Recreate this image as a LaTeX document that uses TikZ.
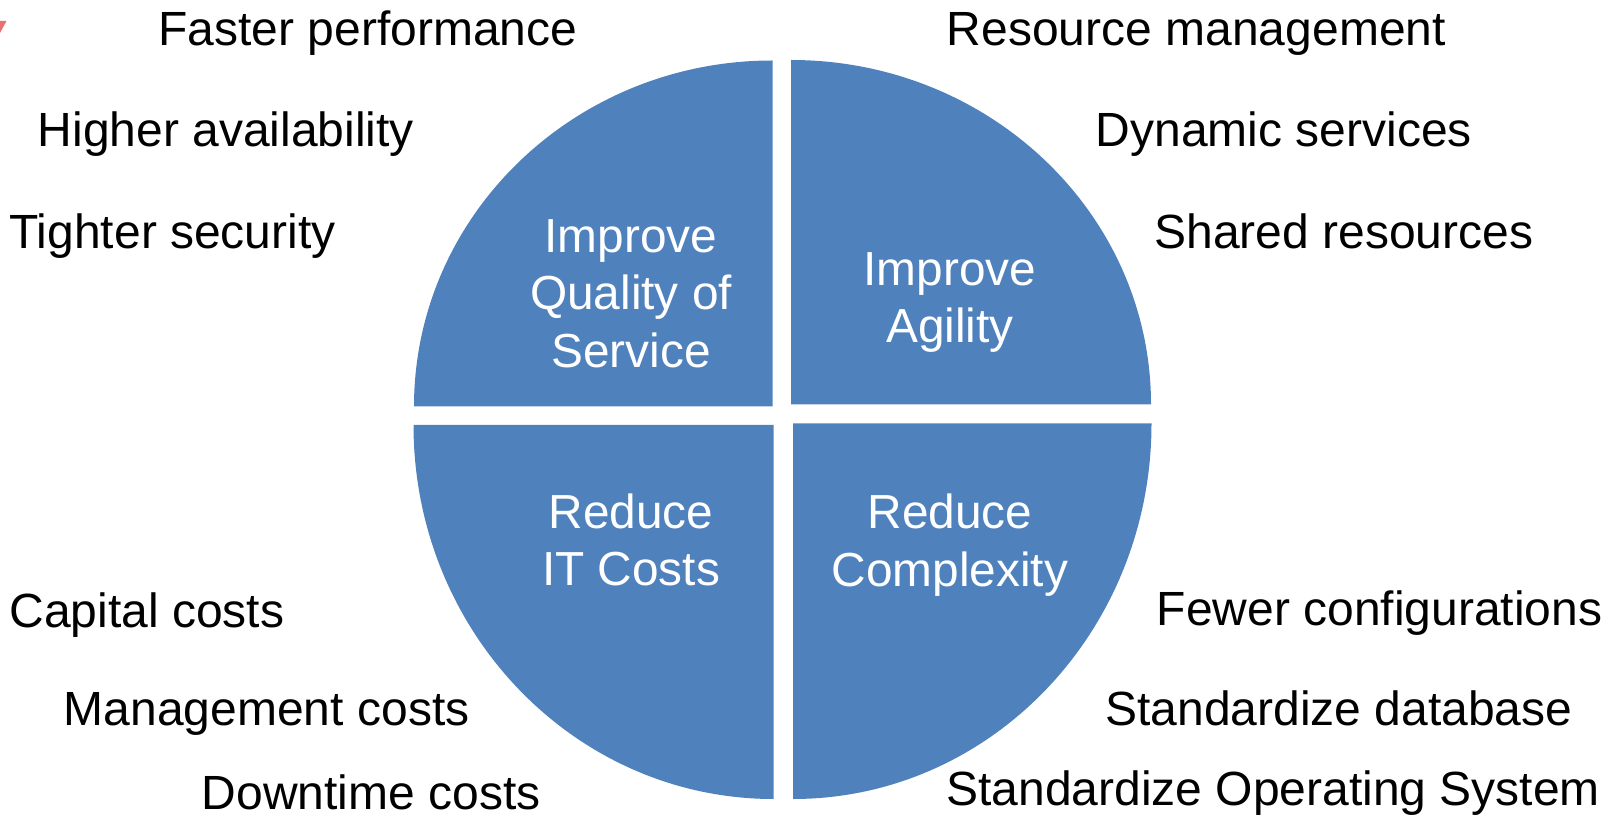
\documentclass[tikz,border=0pt]{standalone}
\usepackage{fontspec}
\setmainfont{Liberation Sans}
\definecolor{qblue}{RGB}{79,129,189}
\definecolor{markred}{RGB}{232,112,112}
\tikzset{
  quad/.style={fill=qblue, draw=none},
  lbl/.style={anchor=base west, inner sep=0pt, text=black, font=\fontsize{24}{28.7}\selectfont},
  inlbl/.style={anchor=center, inner sep=0pt, align=center, text=white, font=\fontsize{23.9}{28.7}\selectfont}
}
\begin{document}
\begin{tikzpicture}[x=0.5pt,y=0.5pt]
\useasboundingbox (0,0) rectangle (1606,815);
% small red mark at the top left edge
\fill[markred] (0,794) -- (6.5,794) -- (0,782) -- cycle;
% quadrants
\path[quad] (772.5,408.5) -- (414,408.5) arc[start angle=180, end angle=90, x radius=358.5, y radius=346] -- cycle;
\path[quad] (791,410.5) -- (1151,410.5) arc[start angle=0, end angle=90, x radius=360, y radius=344.5] -- cycle;
\path[quad] (773.5,390) -- (413.5,390) arc[start angle=180, end angle=270, x radius=360, y radius=374] -- cycle;
\path[quad] (793,391.5) -- (1151.5,391.5) arc[start angle=0, end angle=-90, x radius=358.5, y radius=375.5] -- cycle;
% inner labels
\node[inlbl] (qos) at (631,815-293.5) {Improve\\Quality of\\Service};
\node[inlbl] (agi) at (950,815-302.6) {Improve\\Agility};
\node[inlbl] (cost) at (631,815-540) {Reduce\\IT Costs};
\node[inlbl] (cplx) at (950,815-545) {Reduce\\Complexity};
% outer labels, left
\node[lbl] (fast) at (158,815-46) {Faster performance};
\node[lbl] (avail) at (37.5,815-146.5) {Higher availability};
\node[lbl] (sec) at (9,815-249) {Tighter security};
\node[lbl] (cap) at (9,815-627) {Capital costs};
\node[lbl] (mgmt) at (63.5,815-725) {Management costs};
\node[lbl] (down) at (201.5,815-809) {Downtime costs};
% outer labels, right
\node[lbl] (res) at (946.5,815-46) {Resource management};
\node[lbl] (dyn) at (1095.5,815-146.5) {Dynamic services};
\node[lbl] (shr) at (1154,815-249) {Shared resources};
\node[lbl] (few) at (1156.5,815-625) {Fewer configurations};
\node[lbl] (sdb) at (1105,815-725) {Standardize database};
\node[lbl] (sos) at (946,815-805) {Standardize Operating System};
\end{tikzpicture}
\end{document}
